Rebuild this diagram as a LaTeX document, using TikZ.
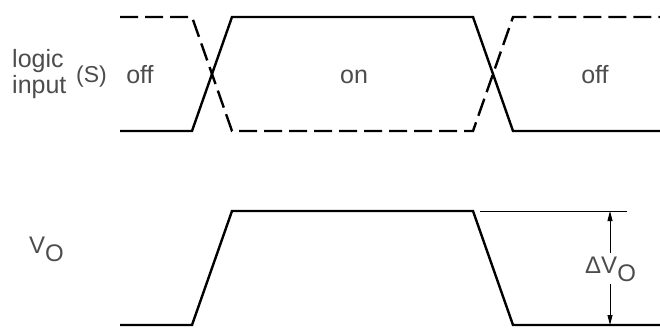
\documentclass[tikz,border=0pt]{standalone}
\usepackage{fontspec}
\setmainfont{Liberation Sans}
\usetikzlibrary{arrows.meta}
\begin{document}
\begin{tikzpicture}[x=1pt,y=-1pt,
  sig/.style={line width=2.4pt,line join=miter},
  dsig/.style={sig,dash pattern=on 18pt off 7pt},
  lbl/.style={text=black!70,font=\fontsize{25}{27}\selectfont,inner sep=0pt},
  thin/.style={line width=0.9pt},
  dimarrow/.style={thin,-{Triangle[length=10pt,width=5pt]}}]
\useasboundingbox (0,0) rectangle (660,334);
% logic input waveform
\draw[sig] (120,131) -- (192,131) -- (232,17) -- (473,17) -- (513,131) -- (660,131);
\draw[dsig] (120,17) -- (192,17) -- (232,131) -- (473,131) -- (513,17) -- (660,17);
% output waveform
\draw[sig] (120,325) -- (192,325) -- (232,211) -- (473,211) -- (513,325) -- (660,325);
% reference lines
\coordinate (top) at (610,211);
\coordinate (bot) at (610,325);
\draw[thin] (480,211) -- (627,211);
% labels
\node[lbl,anchor=base west] (logic) at (12,68) {logic};
\node[lbl,anchor=base west] (input) at (12,94) {input};
\node[lbl,anchor=base west,font=\fontsize{23}{25}\selectfont] (S) at (76,83) {(S)};
\node[lbl,anchor=base] (off1) at (140,84) {off};
\node[lbl,anchor=base] (on) at (354,84) {on};
\node[lbl,anchor=base] (off2) at (595,84) {off};
\node[lbl,anchor=base west,font=\fontsize{24}{26}\selectfont] (vo) at (29,253) {V\raisebox{-8pt}{O}};
\node[lbl,anchor=base west,font=\fontsize{24}{26}\selectfont,inner ysep=3pt] (dvo) at (585,273) {ΔV\raisebox{-8pt}{O}};
\draw[dimarrow] (dvo.north -| top) -- (top);
\draw[dimarrow] (dvo.south -| bot) -- (bot);
\end{tikzpicture}
\end{document}
